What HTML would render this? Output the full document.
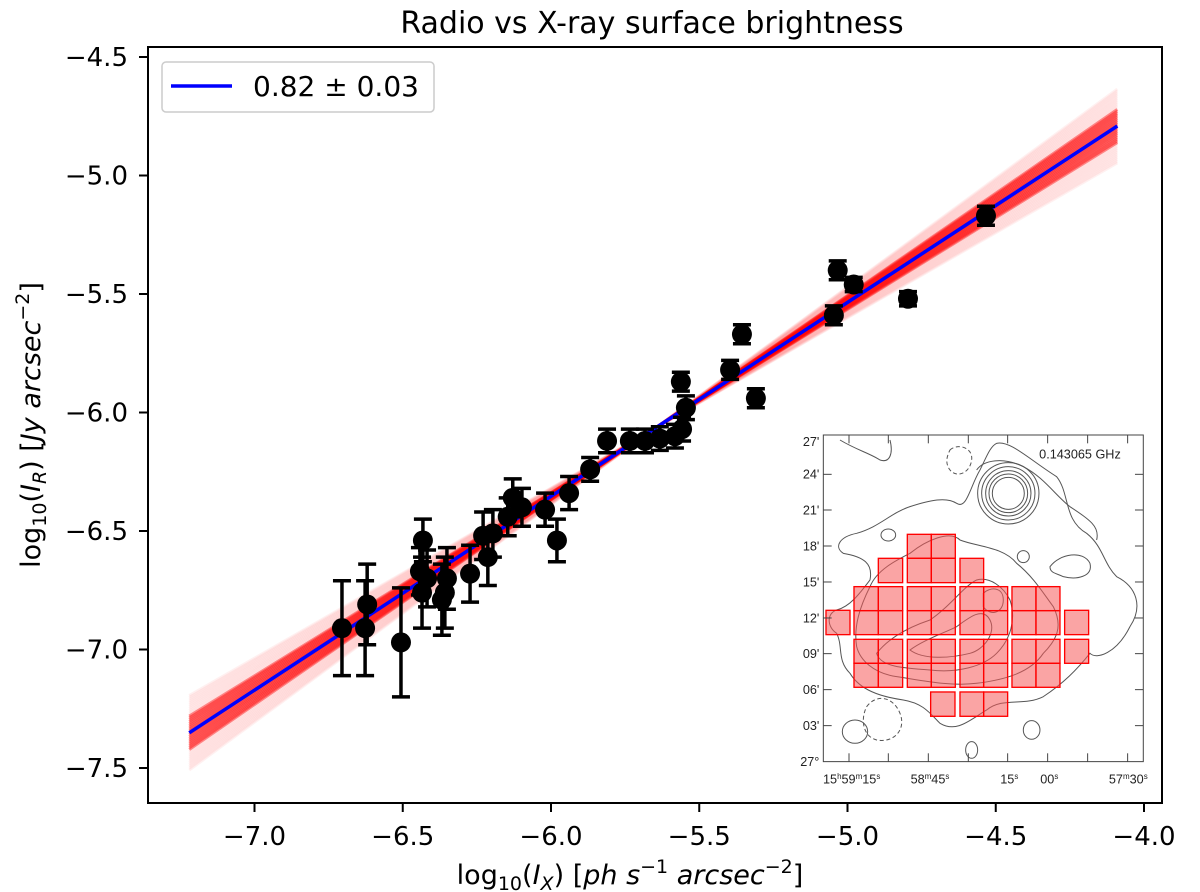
<!DOCTYPE html>
<html><head><meta charset="utf-8"><style>
body{margin:0;background:#fff;}
svg{display:block;font-family:"DejaVu Sans","Liberation Sans",sans-serif;}
</style></head><body>
<svg id="chart" width="1200" height="892" viewBox="0 0 1200 892" xmlns="http://www.w3.org/2000/svg">
<rect width="1200" height="892" fill="#fff"/>
<text x="652" y="33" font-size="30" text-anchor="middle">Radio vs X-ray surface brightness</text>
<g id="band"></g>
<g id="fitline"></g>
<g id="points"></g>
<g id="inset" transform="translate(770,420) scale(0.3333)">
<rect x="40" y="0" width="1120" height="1130" fill="#fff"/>
<rect x="160" y="45" width="960" height="980" fill="none" stroke="#444" stroke-width="3"/>
<g fill="none" stroke="#555" stroke-width="3">
<circle cx="715" cy="220" r="48"/><circle cx="715" cy="220" r="58"/><circle cx="715" cy="220" r="68"/><circle cx="715" cy="220" r="80"/><circle cx="715" cy="220" r="92"/>
<path d="M210,60 C260,90 300,100 330,120 C360,130 370,100 360,60"/>
<path d="M680,70 C720,60 780,120 860,170 C900,220 880,300 950,340 C1000,380 1000,430 1040,470 C1100,500 1120,560 1080,620 C1040,700 980,720 960,700 C920,750 880,790 820,830 C760,860 700,830 650,870 C600,900 560,940 510,910 C480,880 460,850 400,840 C330,830 270,810 240,760 C200,720 220,680 200,640 C170,620 170,580 200,570 C240,560 270,520 300,480 C310,430 280,410 220,400 C190,380 210,350 260,340 C330,320 360,280 420,260 C480,240 530,230 560,250 C590,270 600,200 630,150 C650,110 660,80 680,70Z"/>
<path d="M620,150 C640,120 700,110 760,140 C820,170 860,230 900,260 C960,300 990,320 980,360"/>
<path d="M300,500 C320,450 380,420 420,400 C470,360 540,330 570,360 C620,380 700,380 740,430 C790,470 820,520 850,560 C880,620 860,660 820,700 C780,760 700,780 620,790 C540,800 450,780 380,770 C310,760 270,720 260,680 C250,620 270,560 300,500Z"/>
<path d="M320,700 C360,650 420,620 480,600 C540,560 580,500 620,480 C660,470 700,500 720,540 C740,600 720,660 680,700 C640,740 560,760 480,750 C400,745 330,740 320,700Z"/>
<path d="M420,690 C460,660 520,640 560,620 C600,590 640,560 660,600 C680,640 640,690 600,700 C540,715 460,720 420,690Z"/>
<path d="M640,520 C660,500 700,500 700,540 C700,580 660,590 640,560Z"/>
<path d="M840,440 C870,400 940,390 960,430 C970,470 920,480 880,470 C860,460 840,460 840,440Z"/>
<ellipse cx="355" cy="345" rx="22" ry="18"/><ellipse cx="760" cy="410" rx="18" ry="18"/>
<ellipse cx="255" cy="935" rx="38" ry="35"/><ellipse cx="785" cy="930" rx="25" ry="28"/><ellipse cx="605" cy="990" rx="18" ry="25"/>
<path d="M540,90 C560,70 610,80 605,120 C600,160 560,175 540,150 C525,130 530,110 540,90Z" stroke-dasharray="12,8"/>
<path d="M290,860 C320,820 370,830 390,880 C410,930 370,970 320,960 C280,950 270,900 290,860Z" stroke-dasharray="12,8"/>
</g>
<g id="cells"></g>
<g stroke="#444" stroke-width="3">
<line x1="160" y1="163" x2="185" y2="163"/><line x1="160" y1="270" x2="185" y2="270"/><line x1="160" y1="378" x2="185" y2="378"/><line x1="160" y1="486" x2="185" y2="486"/><line x1="160" y1="594" x2="185" y2="594"/><line x1="160" y1="701" x2="185" y2="701"/><line x1="160" y1="809" x2="185" y2="809"/><line x1="160" y1="917" x2="185" y2="917"/>
<line x1="1095" y1="163" x2="1120" y2="163"/><line x1="1095" y1="270" x2="1120" y2="270"/><line x1="1095" y1="378" x2="1120" y2="378"/><line x1="1095" y1="486" x2="1120" y2="486"/><line x1="1095" y1="594" x2="1120" y2="594"/><line x1="1095" y1="701" x2="1120" y2="701"/><line x1="1095" y1="809" x2="1120" y2="809"/><line x1="1095" y1="917" x2="1120" y2="917"/>
<line x1="237" y1="1025" x2="237" y2="1000"/><line x1="355" y1="1025" x2="355" y2="1000"/><line x1="475" y1="1025" x2="475" y2="1000"/><line x1="595" y1="1025" x2="595" y2="1000"/><line x1="713" y1="1025" x2="713" y2="1000"/><line x1="833" y1="1025" x2="833" y2="1000"/><line x1="953" y1="1025" x2="953" y2="1000"/><line x1="1073" y1="1025" x2="1073" y2="1000"/>
<line x1="237" y1="45" x2="237" y2="70"/><line x1="355" y1="45" x2="355" y2="70"/><line x1="475" y1="45" x2="475" y2="70"/><line x1="595" y1="45" x2="595" y2="70"/><line x1="713" y1="45" x2="713" y2="70"/><line x1="833" y1="45" x2="833" y2="70"/><line x1="953" y1="45" x2="953" y2="70"/><line x1="1073" y1="45" x2="1073" y2="70"/>
</g>
<g font-size="38" fill="#222" text-anchor="end" font-family="Liberation Sans,sans-serif">
<text x="148" y="78">27'</text><text x="148" y="176">24'</text><text x="148" y="283">21'</text><text x="148" y="391">18'</text><text x="148" y="499">15'</text><text x="148" y="607">12'</text><text x="148" y="714">09'</text><text x="148" y="822">06'</text><text x="148" y="930">03'</text><text x="148" y="1038">27°</text>
</g>
<g font-size="38" fill="#222" text-anchor="middle" font-family="Liberation Sans,sans-serif">
<text x="245" y="1090">15<tspan font-size="24" dy="-13">h</tspan><tspan dy="13">59</tspan><tspan font-size="24" dy="-13">m</tspan><tspan dy="13">15</tspan><tspan font-size="24" dy="-13">s</tspan></text>
<text x="480" y="1090">58<tspan font-size="24" dy="-13">m</tspan><tspan dy="13">45</tspan><tspan font-size="24" dy="-13">s</tspan></text>
<text x="718" y="1090">15<tspan font-size="24" dy="-13">s</tspan></text>
<text x="838" y="1090">00<tspan font-size="24" dy="-13">s</tspan></text>
<text x="1075" y="1090">57<tspan font-size="24" dy="-13">m</tspan><tspan dy="13">30</tspan><tspan font-size="24" dy="-13">s</tspan></text>
<text x="930" y="115">0.143065 GHz</text>
</g>
</g>
<rect x="148" y="47" width="1014" height="756" fill="none" stroke="#000" stroke-width="2"/>
<g id="xticks"></g>
<g id="yticks"></g>
<text x="630" y="884" font-size="27" text-anchor="middle">log<tspan font-size="19" dy="6">10</tspan><tspan dy="-6">(</tspan><tspan font-style="italic">I</tspan><tspan font-size="19" dy="6" font-style="italic">X</tspan><tspan dy="-6">) [</tspan><tspan font-style="italic">ph s</tspan><tspan font-size="19" dy="-11">−1</tspan><tspan dy="11" font-style="italic"> arcsec</tspan><tspan font-size="19" dy="-11">−2</tspan><tspan dy="11">]</tspan></text>
<text transform="translate(40,425) rotate(-90)" font-size="27" text-anchor="middle">log<tspan font-size="19" dy="6">10</tspan><tspan dy="-6">(</tspan><tspan font-style="italic">I</tspan><tspan font-size="19" dy="6" font-style="italic">R</tspan><tspan dy="-6">) [</tspan><tspan font-style="italic">Jy arcsec</tspan><tspan font-size="19" dy="-11">−2</tspan><tspan dy="11">]</tspan></text>
<g>
<rect x="162" y="62" width="272" height="50" rx="4" fill="#fff" stroke="#ccc" stroke-width="1.5"/>
<line x1="171" y1="86" x2="232" y2="86" stroke="#0000ff" stroke-width="3.5"/>
<text x="253" y="96" font-size="28">0.82 ± 0.03</text>
</g>
</svg>
<script>
const xData=[-6.705,-6.627,-6.62,-6.506,-6.442,-6.432,-6.435,-6.418,-6.351,-6.358,-6.368,-6.273,-6.229,-6.213,-6.196,-6.146,-6.129,-6.098,-6.02,-5.98,-5.939,-5.868,-5.811,-5.734,-5.683,-5.633,-5.582,-5.558,-5.562,-5.545,-5.356,-5.396,-5.309,-5.046,-5.033,-4.979,-4.796,-4.533];
const yData=[-6.91,-6.91,-6.81,-6.97,-6.67,-6.54,-6.76,-6.70,-6.70,-6.76,-6.79,-6.68,-6.52,-6.61,-6.51,-6.44,-6.36,-6.40,-6.41,-6.54,-6.34,-6.24,-6.12,-6.12,-6.12,-6.11,-6.10,-6.07,-5.87,-5.98,-5.67,-5.82,-5.94,-5.59,-5.40,-5.46,-5.52,-5.17];
const yErr=[0.2,0.2,0.17,0.23,0.1,0.09,0.15,0.12,0.13,0.15,0.15,0.12,0.1,0.12,0.1,0.08,0.08,0.08,0.07,0.09,0.07,0.05,0.05,0.05,0.05,0.05,0.05,0.05,0.04,0.05,0.04,0.04,0.04,0.04,0.04,0.03,0.03,0.04];
const fitSlope=0.818, fitPivotX=-5.8, fitPivotY=-6.19, xMin=-7.22, xMax=-4.09, bandPivotX=-5.65;
const xTicks=[-7.0,-6.5,-6.0,-5.5,-5.0,-4.5,-4.0];
const yTicks=[-4.5,-5.0,-5.5,-6.0,-6.5,-7.0,-7.5];
const cellsX=[[412,484,556],[325,398],[570,641],[252,325,398],[412,484,556],[570,641,713],[726,798,870],[168,240],[884,956],[252,325,398],[412,484,556],[570,641,713],[726,798,870],[884,956],[482,555],[570,641,713]];
const cellsY=[[343,415,488],[415,488],[415,488],[500,572,644],[500,572,644],[500,572,644],[500,572,644],[571,644],[571,644],[658,730,802],[658,730,802],[658,730,802],[658,730,802],[658,730],[816,889],[816,889]];
const NS="http://www.w3.org/2000/svg";
const sx=v=>254.5+(v+7)*296.5, sy=v=>57+(-4.5-v)*237;
function mk(tag,attrs,parent){const e=document.createElementNS(NS,tag);for(const k in attrs)e.setAttribute(k,attrs[k]);parent.appendChild(e);return e;}
const fl=x=>fitPivotY+fitSlope*(x-fitPivotX);
const band=document.getElementById('band');
for(let i=-20;i<=20;i++){
  const s=fitSlope+i*0.005, py=fl(bandPivotX);
  const f=x=>py+s*(x-bandPivotX);
  const l=mk('line',{x1:sx(xMin),y1:sy(f(xMin)),x2:sx(xMax),y2:sy(f(xMax)),stroke:'#ff0000','stroke-width':3,'stroke-opacity':Math.abs(i)>9?0.06:0.45},band);
  
  
}
const bl=mk('line',{x1:sx(xMin),y1:sy(fl(xMin)),x2:sx(xMax),y2:sy(fl(xMax)),stroke:'#0000ff','stroke-width':3.5},document.getElementById('fitline'));


const pts=document.getElementById('points');
xData.forEach((x,i)=>{
  const g=mk('g',{},pts);
  
  
  const cx=sx(x),t=sy(yData[i]+yErr[i]),b=sy(yData[i]-yErr[i]);
  mk('line',{x1:cx,y1:t,x2:cx,y2:b,stroke:'#000','stroke-width':3.5},g);
  mk('line',{x1:cx-9,y1:t,x2:cx+9,y2:t,stroke:'#000','stroke-width':3.5},g);
  mk('line',{x1:cx-9,y1:b,x2:cx+9,y2:b,stroke:'#000','stroke-width':3.5},g);
  mk('circle',{cx:cx,cy:sy(yData[i]),r:10,fill:'#000'},g);
});
const xt=document.getElementById('xticks');
xTicks.forEach(v=>{
  mk('line',{x1:sx(v),y1:803,x2:sx(v),y2:812,stroke:'#000','stroke-width':2},xt);
  const t=mk('text',{x:sx(v),y:845,'font-size':26,'text-anchor':'middle'},xt);
  t.textContent='−'+Math.abs(v).toFixed(1);
  
  
});
const yt=document.getElementById('yticks');
yTicks.forEach(v=>{
  mk('line',{x1:139,y1:sy(v),x2:148,y2:sy(v),stroke:'#000','stroke-width':2},yt);
  const t=mk('text',{x:128,y:sy(v)+9,'font-size':26,'text-anchor':'end'},yt);
  t.textContent='−'+Math.abs(v).toFixed(1);
  
  
});
const cg=document.getElementById('cells');
cellsX.forEach((xs,i)=>{const ys=cellsY[i];
  for(let a=0;a<xs.length-1;a++)for(let b=0;b<ys.length-1;b++){
    const r=mk('rect',{x:xs[a],y:ys[b],width:xs[a+1]-xs[a],height:ys[b+1]-ys[b],fill:'rgba(245,90,90,0.55)',stroke:'#ff0000','stroke-width':4},cg);
    
    
  }
});
</script>
</body></html>
